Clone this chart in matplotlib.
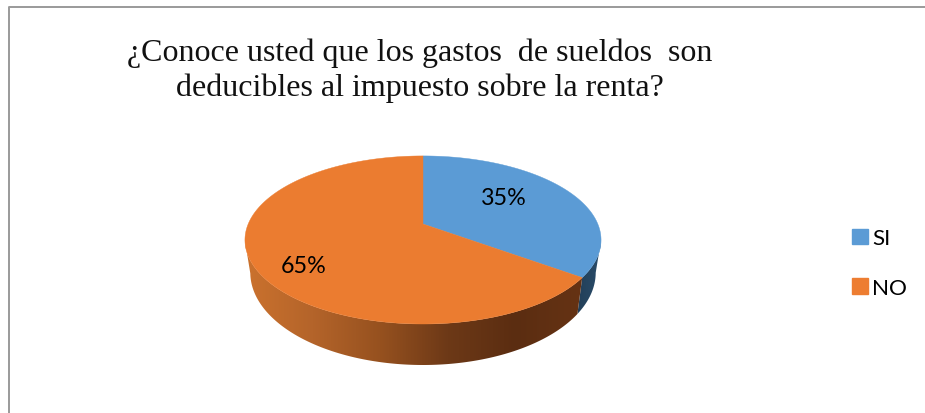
import numpy as np
import matplotlib
matplotlib.use("Agg")
import matplotlib.pyplot as plt
from matplotlib.colors import LinearSegmentedColormap
from matplotlib.patches import Patch, Polygon

title = "¿Conoce usted que los gastos  de sueldos  son\ndeducibles al impuesto sobre la renta?"
categories = ["SI", "NO"]
values = [35, 65]
colors = ["#5B9BD5", "#ED7D31"]
top_colors = ["#5B9BD5", "#EB7C30"]
side_colors = [["#223F58", "#2A4C6A"],
               ["#CB722E", "#B4642A", "#96511F", "#6D3917", "#5B2D11", "#663314"]]
label_pos = [(504, 199), (304, 267)]

# pie is drawn as a circle seen in perspective
cx, cy = 423, 225
rx, ry, p = 174.8, 81, 0.19
depth, shrink, stretch = 31, 0.97, 1.10


def disc(theta, xscale=1.0, yscale=1.0, dy=0):
    x, y = np.cos(theta), np.sin(theta)
    w = 1 + p * y
    return cx + xscale * rx * x / w, cy + dy - yscale * ry * y / w


fig = plt.figure(figsize=(9.25, 4.14), dpi=100)
ax = fig.add_axes([0, 0, 1, 1])
ax.set_xlim(0, 925)
ax.set_ylim(414, 0)
ax.axis("off")

# chart border
ax.plot([8.5, 8.5, 925], [414, 7.5, 7.5], color="#9A9A9A", lw=1.4)

start = np.pi / 2
angles = []
for v in values:
    end = start - 2 * np.pi * v / sum(values)
    angles.append(np.linspace(start, end, 400))
    start = end

# side walls first, top faces go over them; only the front part shows
for theta, shades in zip(angles, side_colors):
    front = theta[np.sin(theta) <= -p]
    xt, yt = disc(front)
    xb, yb = disc(front, shrink, stretch, depth)
    wall = Polygon(np.column_stack([np.r_[xt, xb[::-1]], np.r_[yt, yb[::-1]]]),
                   closed=True, fc="none", ec="none")
    ax.add_patch(wall)
    cmap = LinearSegmentedColormap.from_list("side", shades)
    im = ax.imshow(np.linspace(0, 1, 256)[None, :], cmap=cmap, aspect="auto",
                   extent=[min(xt.min(), xb.min()), max(xt.max(), xb.max()), 380, 150], zorder=1)
    im.set_clip_path(wall)
ax.set_xlim(0, 925)
ax.set_ylim(414, 0)

for theta, col in zip(angles, top_colors):
    xt, yt = disc(theta)
    ax.fill(np.r_[cx, xt], np.r_[cy, yt], color=col, lw=0.3, zorder=2)

for v, pos in zip(values, label_pos):
    ax.text(pos[0], pos[1], f"{v}%", ha="center", va="center", fontsize=16.8,
            family="Lato", color="black", zorder=3)

ax.text(420, 71, title, ha="center", va="center", fontsize=23, family="Liberation Serif",
        color="#111111", linespacing=1.25)

handles = [Patch(color=c, label=n) for c, n in zip(colors, categories)]
ax.legend(handles=handles, loc="center left", bbox_to_anchor=(852 / 925, 1 - 264 / 414),
          frameon=False, prop={"family": "Lato", "size": 16.2}, handlelength=0.7,
          handleheight=0.7, handletextpad=0.2, labelspacing=1.3, borderpad=0, borderaxespad=0)

fig.savefig("out.png", dpi=100)
